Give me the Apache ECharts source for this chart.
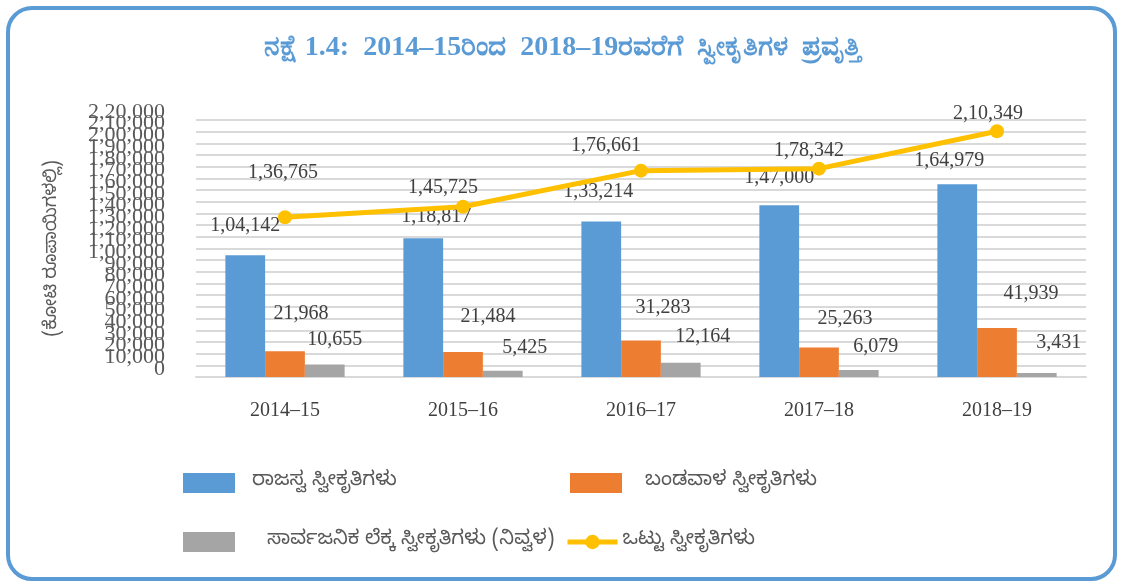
<!DOCTYPE html>
<html>
<head>
<meta charset="utf-8">
<script src="https://cdn.jsdelivr.net/npm/echarts@6/dist/echarts.min.js"></script>
<style>
  html, body { margin: 0; padding: 0; background: #fff; }
  #chart { width: 1125px; height: 581px; }
</style>
</head>
<body>
<div id="chart"></div>
<script>
  // data (ಕೋಟಿ ರೂ.)
  var years = ['2014–15', '2015–16', '2016–17', '2017–18', '2018–19'];
  var revenue = [104142, 118817, 133214, 147000, 164979];
  var capital = [21968, 21484, 31283, 25263, 41939];
  var publicAcc = [10655, 5425, 12164, 6079, 3431];
  var total = [136765, 145725, 176661, 178342, 210349];

  var names = ['ರಾಜಸ್ವ ಸ್ವೀಕೃತಿಗಳು', 'ಬಂಡವಾಳ ಸ್ವೀಕೃತಿಗಳು', 'ಸಾರ್ವಜನಿಕ ಲೆಕ್ಕ ಸ್ವೀಕೃತಿಗಳು (ನಿವ್ವಳ)', 'ಒಟ್ಟು ಸ್ವೀಕೃತಿಗಳು'];

  // label nudges, the source has hand placed labels
  var revShift = [[0, -20], [13, -11], [-3, -20], [0, -18], [-8, -14]];
  var capShift = [[16, -28], [25, -25], [22, -23], [26, -19], [34, -24]];
  var pubShift = [[10, -15], [22, -13], [22, -16], [17, -13], [22, -20]];
  var totShift = [[-2, -27], [-20, -2], [-35, -8], [-10, -1], [-9, -1]];

  var serif = '"Liberation Serif", "Times New Roman", serif';
  var kn = '"Noto Sans Kannada", "Noto Sans", sans-serif';

  // plot area; tick labels in the source sit ~8px above their gridlines
  var plotTop = 120, plotBottom = 204, lift = 8;
  var step = (581 - plotTop - plotBottom) / 22;

  function inr(n) {
    var s = String(n);
    if (s.length <= 3) return s;
    var last = s.slice(-3), rest = s.slice(0, -3);
    rest = rest.replace(/\B(?=(\d{2})+(?!\d))/g, ',');
    return rest + ',' + last;
  }

  function withShift(vals, shifts) {
    return vals.map(function (v, i) {
      return { value: v, label: { offset: shifts[i] } };
    });
  }

  var labelStyle = {
    show: true,
    position: 'top',
    distance: 0,
    fontFamily: serif,
    fontSize: 20,
    color: '#404040',
    formatter: function (p) { return inr(p.value); }
  };

  function legendFor(name, left, top, w, h, padLeft, icon) {
    var lg = {
      data: [{ name: name, icon: icon }],
      left: left,
      top: top,
      padding: 0,
      itemWidth: w,
      itemHeight: h,
      textStyle: { fontFamily: kn, fontSize: 20, color: '#595959', padding: [0, 0, 12, padLeft] }
    };
    if (!icon) {
      lg.data = [name];
      lg.lineStyle = { width: 5 };
    }
    return lg;
  }

  // label-only value axes (even and odd ticks on two offset grids)
  function tickAxis(idx, min, max) {
    return {
      type: 'value', gridIndex: idx, min: min, max: max, interval: 20000,
      axisLine: { show: false }, axisTick: { show: false }, splitLine: { show: false },
      axisLabel: {
        fontFamily: serif, fontSize: 22, color: '#595959', margin: 31, lineHeight: 20,
        showMinLabel: true, showMaxLabel: true, hideOverlap: false,
        formatter: function (v) { return inr(v); }
      }
    };
  }

  var chart = echarts.init(document.getElementById('chart'));
  chart.setOption({
    animation: false,
    title: {
      text: 'ನಕ್ಷೆ 1.4:  2014–15ರಿಂದ  2018–19ರವರೆಗೆ  ಸ್ವೀಕೃತಿಗಳ  ಪ್ರವೃತ್ತಿ',
      left: 'center',
      top: 29,
      textStyle: { fontFamily: serif, fontSize: 28, fontWeight: 'bold', color: '#5b9bd5' }
    },
    graphic: [{
      type: 'rect',
      shape: { x: 8, y: 8, width: 1107, height: 571, r: 24 },
      style: { fill: 'none', stroke: '#5b9bd5', lineWidth: 4 },
      silent: true
    }],
    legend: [
      legendFor(names[0], 183, 473, 52, 20, 12, 'rect'),
      legendFor(names[1], 570, 473, 52, 20, 18, 'rect'),
      legendFor(names[2], 183, 532, 52, 20, 27, 'rect'),
      legendFor(names[3], 565, 532, 50, 18, 0, null)
    ],
    grid: [
      { left: 196, right: 39, top: plotTop, bottom: plotBottom },
      { left: 196, right: 39, top: plotTop - lift, bottom: plotBottom + lift },
      { left: 196, right: 39, top: plotTop - lift + step, bottom: plotBottom + lift + step }
    ],
    xAxis: [
      {
        type: 'category',
        data: years,
        axisLine: { lineStyle: { color: '#d9d9d9', width: 2 } },
        axisTick: { show: false },
        axisLabel: { fontFamily: serif, fontSize: 20, color: '#404040', margin: 24 }
      },
      { type: 'category', gridIndex: 1, data: years, show: false },
      { type: 'category', gridIndex: 2, data: years, show: false }
    ],
    yAxis: [
      {
        type: 'value',
        min: 0,
        max: 220000,
        interval: 10000,
        name: '(ಕೋಟಿ ರೂಪಾಯಿಗಳಲ್ಲಿ)',
        nameLocation: 'middle',
        nameRotate: 90,
        nameGap: 133,
        nameTextStyle: { fontFamily: kn, fontSize: 18, color: '#595959' },
        axisLine: { show: false },
        axisTick: { show: false },
        axisLabel: { show: false },
        splitLine: { lineStyle: { color: '#d9d9d9', width: 2 } }
      },
      tickAxis(1, 0, 220000),
      tickAxis(2, 10000, 210000)
    ],
    series: [
      {
        name: names[0], type: 'bar', barGap: '0%', barCategoryGap: '33%',
        itemStyle: { color: '#5b9bd5' },
        label: labelStyle,
        data: withShift(revenue, revShift)
      },
      {
        name: names[1], type: 'bar',
        itemStyle: { color: '#ed7d31' },
        label: labelStyle,
        data: withShift(capital, capShift)
      },
      {
        name: names[2], type: 'bar',
        itemStyle: { color: '#a5a5a5' },
        label: labelStyle,
        data: withShift(publicAcc, pubShift)
      },
      {
        name: names[3], type: 'line',
        symbol: 'circle', symbolSize: 14,
        lineStyle: { color: '#ffc000', width: 5 },
        itemStyle: { color: '#ffc000' },
        label: labelStyle,
        data: withShift(total, totShift)
      }
    ]
  });
</script>
</body>
</html>
